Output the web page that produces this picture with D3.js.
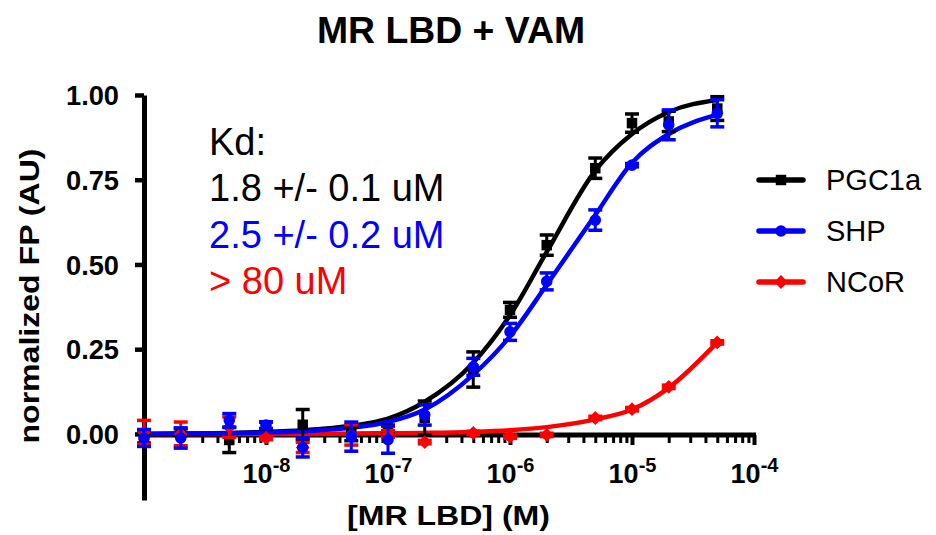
<!DOCTYPE html>
<html><head><meta charset="utf-8">
<script src="https://cdn.jsdelivr.net/npm/d3@7"></script>
<style>
body{margin:0;background:#fff}
svg{display:block}
text{font-family:"Liberation Sans",Arial,Helvetica,sans-serif}
</style>
</head><body>
<svg id="chart" width="936" height="535"></svg>
<script>
// ---------- data ----------
const conc = [1e-9, 2e-9, 5e-9, 1e-8, 2e-8, 5e-8, 1e-7, 2e-7, 5e-7, 1e-6, 2e-6, 5e-6, 1e-5, 2e-5, 5e-5];

const seriesNames  = ["PGC1a", "SHP", "NCoR"];
const seriesColors = ["#000000", "#0000ff", "#ff0000"];
const seriesShapes = ["square", "circle", "diamond"];

const pgcMean = [-0.012, 0.005, -0.018, 0.025, 0.027, 0.0, 0.016, 0.047, 0.19, 0.366, 0.557, 0.784, 0.917, 0.922, 0.96];
const pgcErr  = [0.015, 0.01, 0.037, 0.01, 0.045, 0.02, 0.01, 0.05, 0.052, 0.022, 0.03, 0.03, 0.027, 0.03, 0.035];

const shpMean = [-0.012, -0.012, 0.04, 0.026, -0.04, -0.008, -0.017, 0.056, 0.198, 0.301, 0.45, 0.631, 0.793, 0.912, 0.946];
const shpErr  = [0.025, 0.03, 0.02, 0.01, 0.028, 0.043, 0.04, 0.03, 0.025, 0.025, 0.025, 0.03, 0.005, 0.044, 0.04];

const ncorMean = [0.005, 0.0, 0.02, -0.012, -0.04, -0.003, 0.0, -0.024, 0.003, -0.008, -0.003, 0.047, 0.073, 0.139, 0.27];
const ncorErr  = [0.035, 0.035, 0.03, 0.005, 0.015, 0.03, 0.01, 0.005, 0.005, 0.005, 0.005, 0.005, 0.005, 0.005, 0.005];

// fitted curves at each concentration
const pgcFit  = [0.0, 0.001, 0.003, 0.006, 0.011, 0.024, 0.045, 0.095, 0.21, 0.35, 0.537, 0.777, 0.885, 0.95, 0.985];
const shpFit  = [0.0, 0.001, 0.002, 0.004, 0.008, 0.018, 0.035, 0.072, 0.175, 0.288, 0.44, 0.646, 0.8, 0.885, 0.942];
const ncorFit = [0.0, 0.0, 0.0, 0.0, 0.0, 0.001, 0.002, 0.003, 0.006, 0.011, 0.02, 0.043, 0.072, 0.136, 0.27];

const yTicks = [0, 0.25, 0.5, 0.75, 1.0];
const yTickLabels = ["0.00", "0.25", "0.50", "0.75", "1.00"];
const xMajorTicks = [1e-8, 1e-7, 1e-6, 1e-5, 1e-4];
const xMajorExp = ["-8", "-7", "-6", "-5", "-4"];
const xMinorMult = [2, 3, 4, 5, 6, 7, 8, 9];
const xDecades = [1e-9, 1e-8, 1e-7, 1e-6, 1e-5];

const titleText = "MR LBD + VAM";
const xTitle = "[MR LBD] (M)";
const yTitle = "normalized FP (AU)";
const kdLines  = ["Kd:", "1.8 +/- 0.1 uM", "2.5 +/- 0.2 uM", "> 80 uM"];
const kdColors = ["#000000", "#000000", "#0000ff", "#ff0000"];

// ---------- build ----------
const means = [pgcMean, shpMean, ncorMean];
const errs  = [pgcErr, shpErr, ncorErr];
const fits  = [pgcFit, shpFit, ncorFit];

const svg = d3.select("#chart");
const x = d3.scaleLog().domain([1e-9, 1e-4]).range([144, 754]);
const y = d3.scaleLinear().domain([-0.195, 1.0]).range([500, 95]);

// title
svg.append("text").attr("x", 451).attr("y", 43).attr("text-anchor", "middle")
  .attr("font-size", 37.5).attr("font-weight", "bold")
  .attr("textLength", 268).attr("lengthAdjust", "spacingAndGlyphs").text(titleText);

// y axis
const yAxisG = svg.append("g").attr("transform", "translate(144,0)")
  .call(d3.axisLeft(y).tickValues(yTicks).tickSize(9).tickSizeOuter(0).tickPadding(16)
    .tickFormat((d, i) => yTickLabels[i]));
yAxisG.select(".domain").attr("stroke", "#000").attr("stroke-width", 5);
yAxisG.selectAll(".tick line").attr("stroke", "#000").attr("stroke-width", 4.5);
yAxisG.selectAll(".tick text").attr("font-size", 27).attr("font-weight", "bold")
  .attr("font-family", "'Liberation Sans',Arial,sans-serif").attr("fill", "#000").attr("dy", "0.36em")
  .attr("textLength", 53).attr("lengthAdjust", "spacingAndGlyphs");

// x axis (minor ticks)
const minorTicks = [];
xDecades.forEach(d => xMinorMult.forEach(m => minorTicks.push(d * m)));
const xAxisMinor = svg.append("g").attr("transform", "translate(0,435)")
  .call(d3.axisBottom(x).tickValues(minorTicks).tickSize(8).tickSizeOuter(0).tickFormat(""));
xAxisMinor.select(".domain").attr("stroke", "#000").attr("stroke-width", 5)
  .attr("d", `M${x.range()[0] - 2},0H${x.range()[1] + 2}`);
xAxisMinor.selectAll(".tick line").attr("stroke", "#000").attr("stroke-width", 3);

// x axis (major ticks + labels)
const xAxisMajor = svg.append("g").attr("transform", "translate(0,435)")
  .call(d3.axisBottom(x).tickValues(xMajorTicks).tickSize(10).tickSizeOuter(0).tickPadding(10).tickFormat(""));
xAxisMajor.select(".domain").remove();
xAxisMajor.selectAll(".tick line").attr("stroke", "#000").attr("stroke-width", 4);
xAxisMajor.selectAll(".tick text").each(function (d, i) {
  const t = d3.select(this);
  t.attr("y", 48).attr("dy", null).attr("text-anchor", "middle").attr("fill", "#000")
    .attr("font-weight", "bold").attr("font-family", "'Liberation Sans',Arial,sans-serif");
  t.append("tspan").attr("font-size", 27).text("10");
  t.append("tspan").attr("font-size", 20).attr("dy", -11).text(xMajorExp[i]);
});

// axis titles
svg.append("text").attr("x", 448.5).attr("y", 525).attr("text-anchor", "middle")
  .attr("font-size", 27).attr("font-weight", "bold")
  .attr("textLength", 203).attr("lengthAdjust", "spacingAndGlyphs").text(xTitle);
svg.append("text").attr("transform", "translate(39,296) rotate(-90)").attr("text-anchor", "middle")
  .attr("font-size", 27).attr("font-weight", "bold")
  .attr("textLength", 295).attr("lengthAdjust", "spacingAndGlyphs").text(yTitle);

// Kd annotation
kdLines.forEach((s, i) => {
  svg.append("text").attr("x", 209).attr("y", 155 + i * 46.3)
    .attr("font-size", 38).attr("fill", kdColors[i]).text(s);
});

// symbols
function symbolPath(shape) {
  if (shape === "square") return d3.symbol().type(d3.symbolSquare).size(110)();
  if (shape === "circle") return d3.symbol().type(d3.symbolCircle).size(105)();
  return d3.symbol().type(d3.symbolSquare).size(95)();
}
function symbolRot(shape) { return shape === "diamond" ? " rotate(45)" : ""; }

// curves
const line = d3.line().x(d => x(d[0])).y(d => y(d[1])).curve(d3.curveMonotoneX);
const curveOrder = [2, 0, 1];
curveOrder.forEach(s => {
  svg.append("path").datum(conc.map((c, i) => [c, fits[s][i]]))
    .attr("fill", "none").attr("stroke", seriesColors[s]).attr("stroke-width", 4.5)
    .attr("d", line);
});

// error bars + points
const pointOrder = [0, 2, 1];
pointOrder.forEach(s => {
  const g = svg.append("g");
  const data = conc.map((c, i) => ({ c, m: means[s][i], e: errs[s][i] }));
  const eb = g.selectAll(".eb").data(data).enter().append("g").attr("stroke", seriesColors[s]);
  eb.append("line").attr("x1", d => x(d.c)).attr("x2", d => x(d.c))
    .attr("y1", d => y(d.m - d.e)).attr("y2", d => y(d.m + d.e)).attr("stroke-width", 3);
  eb.append("line").attr("x1", d => x(d.c) - 7).attr("x2", d => x(d.c) + 7)
    .attr("y1", d => y(d.m + d.e)).attr("y2", d => y(d.m + d.e)).attr("stroke-width", 3.5);
  eb.append("line").attr("x1", d => x(d.c) - 7).attr("x2", d => x(d.c) + 7)
    .attr("y1", d => y(d.m - d.e)).attr("y2", d => y(d.m - d.e)).attr("stroke-width", 3.5);
  g.selectAll(".pt").data(data).enter().append("path")
    .attr("d", symbolPath(seriesShapes[s]))
    .attr("transform", d => `translate(${x(d.c)},${y(d.m)})${symbolRot(seriesShapes[s])}`)
    .attr("fill", seriesColors[s]);
});

// legend
seriesNames.forEach((n, i) => {
  const ly = 180 + i * 51;
  svg.append("line").attr("x1", 759).attr("x2", 803).attr("y1", ly).attr("y2", ly)
    .attr("stroke", seriesColors[i]).attr("stroke-width", 5.5).attr("stroke-linecap", "round");
  svg.append("path").attr("d", symbolPath(seriesShapes[i]))
    .attr("transform", `translate(781,${ly})${symbolRot(seriesShapes[i])}`)
    .attr("fill", seriesColors[i]);
  svg.append("text").attr("x", 826).attr("y", ly + 10).attr("font-size", 29).text(n);
});
</script>
</body></html>
